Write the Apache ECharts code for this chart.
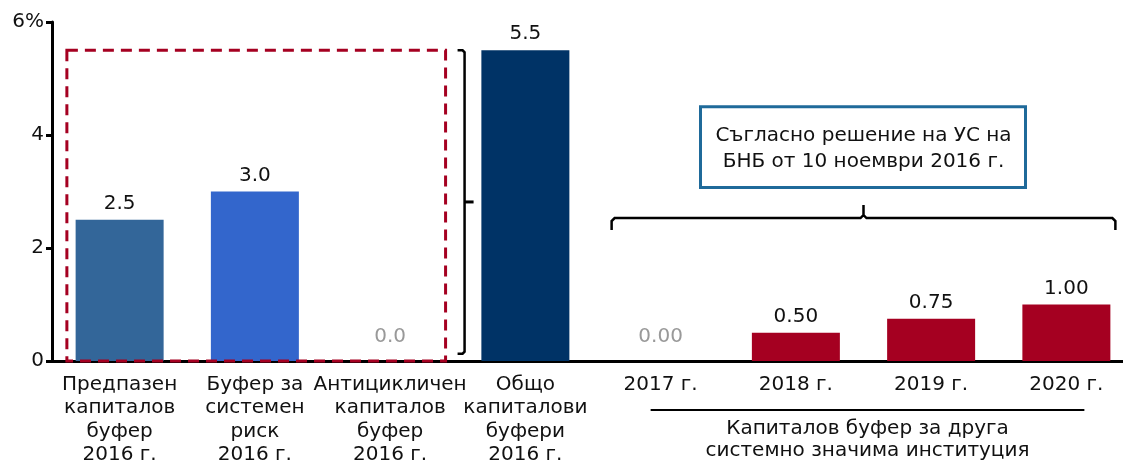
<!DOCTYPE html>
<html>
<head>
<meta charset="utf-8">
<script src="https://cdn.jsdelivr.net/npm/echarts@6/dist/echarts.min.js"></script>
<style>
  html, body { margin: 0; padding: 0; background: #fff; }
  #chart { width: 1123px; height: 461px; }
</style>
</head>
<body>
<div id="chart"></div>
<script>
// categories (x axis labels)
const categories = [
  "Предпазен\nкапиталов\nбуфер\n2016 г.",
  "Буфер за\nсистемен\nриск\n2016 г.",
  "Антицикличен\nкапиталов\nбуфер\n2016 г.",
  "Общо\nкапиталови\nбуфери\n2016 г.",
  "2017 г.",
  "2018 г.",
  "2019 г.",
  "2020 г."
];
// buffer values, %
const values = [2.5, 3.0, 0.0, 5.5, 0.0, 0.5, 0.75, 1.0];
// decimals shown in each label
const decimals = [1, 1, 1, 1, 2, 2, 2, 2];
// y axis ticks
const yTicks = { min: 0, max: 6, interval: 2 };

const boxText = "Съгласно решение на УС на\nБНБ от 10 ноември 2016 г.";
const groupText = "Капиталов буфер за друга\nсистемно значима институция";

const barColors = ["#336699", "#3366cc", "#3366cc", "#003366", "#a50021", "#a50021", "#a50021", "#a50021"];
const FONT = "DejaVu Sans";
const FS = 20;

const chart = echarts.init(document.getElementById("chart"));

const option = {
  animation: false,
  textStyle: { fontFamily: FONT },
  grid: { left: 52, right: -11, top: 22, bottom: 100, outerBoundsMode: "none", containLabel: false },
  xAxis: {
    type: "category",
    data: categories,
    axisLine: { lineStyle: { color: "#000", width: 3 } },
    axisTick: { show: false },
    axisLabel: {
      interval: 0,
      margin: 12,
      fontSize: FS,
      lineHeight: 23.5,
      color: "#111",
      fontFamily: FONT,
    },
  },
  yAxis: {
    type: "value",
    min: yTicks.min,
    max: yTicks.max,
    interval: yTicks.interval,
    splitLine: { show: false },
    axisLine: { show: true, lineStyle: { color: "#000", width: 3 } },
    axisTick: { show: true, length: 6, lineStyle: { color: "#000", width: 3 } },
    axisLabel: {
      fontSize: FS,
      color: "#111",
      margin: 8,
      fontFamily: FONT,
      formatter: (v) => (v === yTicks.max ? v + "%" : String(v)),
    },
  },
  series: [
    {
      type: "bar",
      barWidth: 88,
      data: values.map((v, i) => ({
        value: v,
        itemStyle: { color: barColors[i] },
        label: {
          show: true,
          position: "top",
          distance: v === 0 ? 14 : 6,
          fontSize: FS,
          fontFamily: FONT,
          color: v === 0 ? "#999" : "#111",
          formatter: () => v.toFixed(decimals[i]),
        },
      })),
    },
  ],
};

chart.setOption(option);

// annotations placed through the axes
function px(cat, val) {
  return chart.convertToPixel({ gridIndex: 0 }, [cat, val]);
}

function drawAnnotations() {
  const c0 = px(0, 0), c1 = px(1, 0), c2 = px(2, 0);
  const cw = c1[0] - c0[0];
  const c4 = px(4, 0), c7 = px(7, 0);
  const y55 = px(0, 5.5)[1];
  const y0 = c0[1];

  // dashed red frame
  const rx0 = c0[0] - 0.39 * cw, rx1 = c2[0] + 0.41 * cw;

  // bracket "]"
  const bx = rx1 + 19;
  const bTop = y55, bBot = px(0, 0.13)[1];
  const bMid = (bTop + bBot) / 2;

  // curly brace over 2017-2020
  const lx = c4[0] - 49, rx = c7[0] + 49;
  const mx = (lx + rx) / 2;
  const yb = px(0, 2.32)[1], yh = px(0, 2.53)[1], yt = px(0, 2.76)[1];

  // underline and group label
  const ux0 = c4[0] - 10, ux1 = c7[0] + 18;
  const uy = y0 + 49;

  const boxTop = px(0, 4.5)[1], boxBot = px(0, 3.07)[1];

  chart.setOption({
    graphic: [
      {
        type: "rect",
        shape: { x: rx0, y: y55, width: rx1 - rx0, height: y0 - y55 },
        style: { fill: "none", stroke: "#a50021", lineWidth: 3, lineDash: [11, 7] },
        z: 10,
      },
      {
        type: "polyline",
        shape: { points: [[bx - 7, bTop], [bx - 2, bTop], [bx, bTop + 2], [bx, bBot - 2], [bx - 2, bBot], [bx - 7, bBot]] },
        style: { fill: "none", stroke: "#000", lineWidth: 2.5 },
      },
      {
        type: "line",
        shape: { x1: bx, y1: bMid, x2: bx + 9, y2: bMid },
        style: { stroke: "#000", lineWidth: 3 },
      },
      {
        type: "polyline",
        shape: {
          points: [
            [lx, yb], [lx, yh + 3], [lx + 3, yh], [mx - 3, yh], [mx, yh - 3], [mx, yt],
            [mx, yh - 3], [mx + 3, yh], [rx - 3, yh], [rx, yh + 3], [rx, yb],
          ],
        },
        style: { fill: "none", stroke: "#000", lineWidth: 2.5 },
      },
      {
        type: "rect",
        shape: { x: mx - 163, y: boxTop, width: 325, height: boxBot - boxTop },
        style: { fill: "#fff", stroke: "#1f6a9a", lineWidth: 3 },
      },
      {
        type: "text",
        x: mx,
        y: (boxTop + boxBot) / 2 + 2,
        style: {
          text: boxText,
          fontSize: FS,
          fontFamily: FONT,
          lineHeight: 26,
          fill: "#111",
          align: "center",
          verticalAlign: "middle",
        },
      },
      {
        type: "line",
        shape: { x1: ux0, y1: uy, x2: ux1, y2: uy },
        style: { stroke: "#000", lineWidth: 2 },
      },
      {
        type: "text",
        x: (ux0 + ux1) / 2,
        y: uy + 30,
        style: {
          text: groupText,
          fontSize: FS,
          fontFamily: FONT,
          lineHeight: 22.5,
          fill: "#111",
          align: "center",
          verticalAlign: "middle",
        },
      },
    ],
  });
}

drawAnnotations();
</script>
</body>
</html>
